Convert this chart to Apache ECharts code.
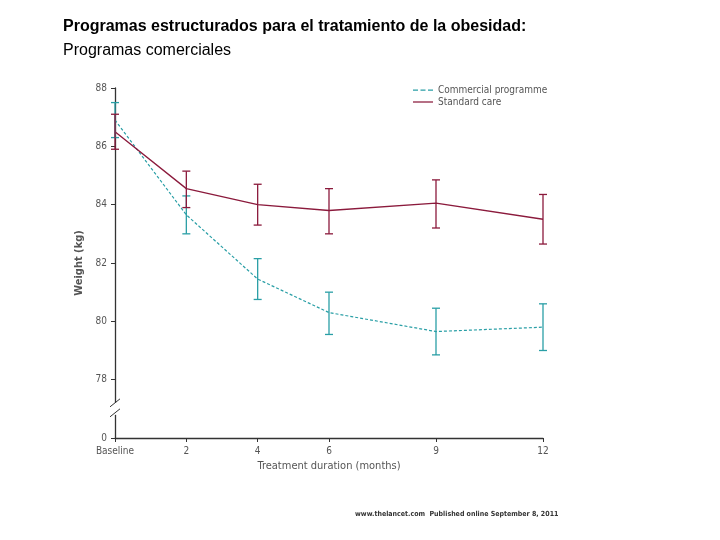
<!DOCTYPE html>
<html><head><meta charset="utf-8">
<script src="https://cdn.jsdelivr.net/npm/echarts@6/dist/echarts.min.js"></script>
<style>body{margin:0;background:#fff}#c{width:720px;height:540px}</style></head>
<body><div id="c"></div>
<script>
const months = [0, 2, 4, 6, 9, 12];
const monthLabels = ['Baseline', '2', '4', '6', '9', '12'];
const commercialMean = [86.9, 83.65, 81.45, 80.3, 79.65, 79.8];
const commercialLow  = [86.3, 83.0, 80.75, 79.55, 78.85, 79.0];
const commercialHigh = [87.5, 84.3, 82.15, 81.0, 80.45, 80.6];
const standardMean = [86.5, 84.55, 84.0, 83.8, 84.05, 83.5];
const standardLow  = [85.9, 83.9, 83.3, 83.0, 83.2, 82.65];
const standardHigh = [87.1, 85.15, 84.7, 84.55, 84.85, 84.35];
const yTicks = [76, 78, 80, 82, 84, 86, 88];
const yTickLabels = ['0', '78', '80', '82', '84', '86', '88'];

const teal = '#2a9fa6', wine = '#8b1a3c';
function errSeries(name, low, high, color){
  return {name, type:'custom', silent:true, z:3,
    data: months.map((m,i)=>[m, low[i], high[i]]),
    renderItem(params, api){
      const lo = api.coord([api.value(0), api.value(1)]);
      const hi = api.coord([api.value(0), api.value(2)]);
      const w = 4;
      const st = {stroke: color, lineWidth: 1.3};
      return {type:'group', children:[
        {type:'line', shape:{x1:lo[0],y1:lo[1],x2:hi[0],y2:hi[1]}, style:st},
        {type:'line', shape:{x1:lo[0]-w,y1:lo[1],x2:lo[0]+w,y2:lo[1]}, style:st},
        {type:'line', shape:{x1:hi[0]-w,y1:hi[1],x2:hi[0]+w,y2:hi[1]}, style:st}
      ]};
    }};
}
const chart = echarts.init(document.getElementById('c'));
const axisFont = {fontFamily:'DejaVu Sans Condensed', fontSize:10, color:'#555'};
chart.setOption({
  animation:false,
  title:[
    {text:'Programas estructurados para el tratamiento de la obesidad:', left:58, top:14,
     textStyle:{fontFamily:'Liberation Sans', fontSize:16, fontWeight:'bold', color:'#000'}},
    {text:'Programas comerciales', left:58, top:38,
     textStyle:{fontFamily:'Liberation Sans', fontSize:16, fontWeight:'normal', color:'#000'}},
    {text:'www.thelancet.com  Published online September 8, 2011', left:350, top:506,
     textStyle:{fontFamily:'DejaVu Sans Condensed', fontSize:7, fontWeight:'bold', color:'#333'}}
  ],
  legend:{top:80, left:408, orient:'vertical', itemGap:2, itemWidth:20, itemHeight:8,
    textStyle:{fontFamily:'DejaVu Sans Condensed', fontSize:10, color:'#555'},
    data:[{name:'Commercial programme', icon:'path://M0,4H4V5H0ZM6,4H10V5H6ZM12,4H16V5H12Z'},
          {name:'Standard care', icon:'path://M0,4H16V5H0Z'}]},
  grid:{left:115, right:177, top:88, bottom:102},
  xAxis:{type:'value', min:0, max:12,
    name:'Treatment duration (months)', nameLocation:'middle', nameGap:22,
    nameTextStyle:{...axisFont, fontSize:11},
    axisLine:{lineStyle:{color:'#333', width:1.3}},
    axisTick:{customValues:months, length:4, lineStyle:{color:'#333'}},
    axisLabel:{...axisFont, customValues:months, formatter:v=>monthLabels[months.indexOf(v)]},
    splitLine:{show:false}},
  yAxis:{type:'value', min:76, max:88, interval:2,
    name:'Weight (kg)', nameLocation:'middle', nameGap:28, nameRotate:90,
    nameTextStyle:{...axisFont, fontSize:11, fontWeight:'bold'},
    axisLine:{show:true, lineStyle:{color:'#333', width:1.3}},
    axisTick:{show:true, length:4, lineStyle:{color:'#333'}},
    axisLabel:{...axisFont, formatter:v=>yTickLabels[yTicks.indexOf(v)]},
    splitLine:{show:false}},
  series:[
    {name:'Commercial programme', type:'line', data:months.map((m,i)=>[m,commercialMean[i]]),
     showSymbol:false, symbol:'none', lineStyle:{color:teal, width:1.2, type:[3,2]}, itemStyle:{color:teal}, z:2},
    {name:'Standard care', type:'line', data:months.map((m,i)=>[m,standardMean[i]]),
     showSymbol:false, symbol:'none', lineStyle:{color:wine, width:1.3}, itemStyle:{color:wine}, z:2},
    errSeries('cErr', commercialLow, commercialHigh, teal),
    errSeries('sErr', standardLow, standardHigh, wine)
  ]
});
const p = chart.convertToPixel({xAxisIndex:0,yAxisIndex:0},[0,77]);
chart.setOption({graphic:[
  {type:'rect', shape:{x:p[0]-3,y:p[1]-6,width:6,height:12}, style:{fill:'#fff'}, z:10},
  {type:'line', shape:{x1:p[0]-5,y1:p[1]-2,x2:p[0]+5,y2:p[1]-10}, style:{stroke:'#333',lineWidth:1}, z:11},
  {type:'line', shape:{x1:p[0]-5,y1:p[1]+8,x2:p[0]+5,y2:p[1]}, style:{stroke:'#333',lineWidth:1}, z:11}
]});
</script></body></html>
